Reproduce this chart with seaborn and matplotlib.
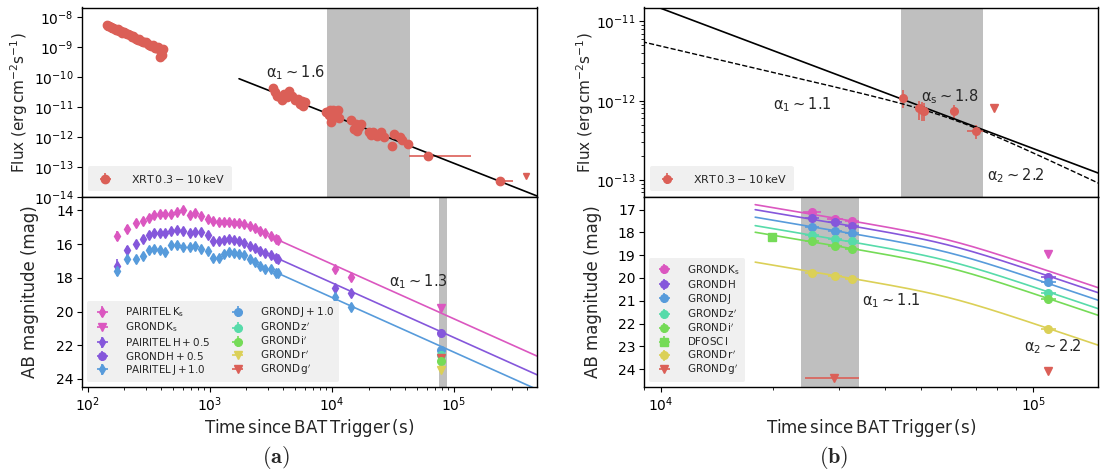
import numpy as np
import matplotlib
matplotlib.use('Agg')
import matplotlib.pyplot as plt
import seaborn as sns
from matplotlib.ticker import MultipleLocator, NullFormatter, LogLocator

sns.set_theme(style='ticks')
plt.rcParams.update({
    'font.family': ['DejaVu Sans'],
    'axes.edgecolor': 'black',
    'axes.linewidth': 1.0,
    'xtick.labelsize': 10,
    'ytick.labelsize': 10,
    'axes.labelsize': 12,
    'xtick.color': 'black',
    'ytick.color': 'black',
    'mathtext.fontset': 'dejavusans',
})
pal = sns.color_palette('hls', 7)
RED, YEL, GRN, TEAL, BLUE, PURP, PINK = pal

# ---------------- data: panel (a) X-ray ----------------
xrt_a_t = [143, 147, 151, 155, 159, 163, 168, 172, 177, 182, 187, 193, 198, 204, 210, 216,
           222, 229, 236, 243, 250, 258, 266, 274, 283, 292, 301, 311, 321, 332, 343, 354,
           366, 378, 390, 403, 412, 405, 395,
           3311, 3428, 3540, 3733, 3908, 4093, 4315, 4487, 4763, 4989, 5260, 5546, 5808, 6010, 5700,
           8930, 9420, 9860, 10200, 10550, 10900, 11260, 11480, 9680,
           14490, 15170, 15680, 16220, 16750, 17340,
           20050, 20850, 21830, 23330, 25430, 26620,
           31400, 32460, 36310, 37830, 42270,
           61000, 240000]
xrt_a_f = [5.3e-9, 5.0e-9, 4.8e-9, 4.6e-9, 4.2e-9, 4.4e-9, 3.9e-9, 3.6e-9, 3.8e-9, 3.4e-9, 3.3e-9,
           3.0e-9, 3.1e-9, 2.8e-9, 2.6e-9, 2.7e-9, 2.4e-9, 2.2e-9, 2.3e-9, 2.0e-9, 1.9e-9, 1.7e-9,
           1.8e-9, 1.6e-9, 1.5e-9, 1.4e-9, 1.45e-9, 1.25e-9, 1.2e-9, 1.1e-9, 1.15e-9, 0.95e-9,
           0.9e-9, 1.0e-9, 0.8e-9, 0.75e-9, 0.85e-9, 0.55e-9, 0.45e-9,
           4.4e-11, 3.2e-11, 2.4e-11, 2.1e-11, 1.7e-11, 2.8e-11, 2.1e-11, 3.3e-11, 2.4e-11, 1.67e-11,
           1.9e-11, 1.3e-11, 1.05e-11, 1.47e-11, 1.55e-11,
           6.8e-12, 5.3e-12, 3.2e-12, 7.8e-12, 4.7e-12, 6.0e-12, 7.8e-12, 4.4e-12, 7.8e-12,
           3.6e-12, 1.9e-12, 2.6e-12, 1.58e-12, 2.1e-12, 2.8e-12,
           1.48e-12, 1.14e-12, 1.48e-12, 1.05e-12, 1.48e-12, 1.0e-12,
           4.9e-13, 1.23e-12, 1.0e-12, 8.1e-13, 6.0e-13,
           2.3e-13, 3.4e-14]
xrt_a_xlo = [0] * 80 + [17400, 10000]
xrt_a_xhi = [0] * 80 + [77000, 60000]
xrt_a_ul_t = [390000]
xrt_a_ul_f = [5.2e-14]

# model (a) X-ray: single power law
xa_t0, xa_f0, xa_alpha = 1740, 8.7e-11, 1.6

# ---------------- data: panel (a) optical/NIR ----------------
pt_t = [173, 210, 247, 282, 320, 353, 390, 431, 483, 544, 602, 686, 758, 850, 968, 1071,
        1183, 1307, 1445, 1585, 1738, 1919, 2121, 2345, 2590, 2864, 3162, 3494, 3657, 10600, 14400]
pt_ks = [15.49, 15.09, 14.73, 14.60, 14.44, 14.28, 14.22, 14.20, 14.18, 14.08, 14.00, 14.24, 14.14,
         14.30, 14.50, 14.63, 14.67, 14.69, 14.67, 14.73, 14.77, 14.83, 14.93, 15.03, 15.23, 15.33,
         15.49, 15.72, 15.76, 17.45, 17.94]
pt_h = [17.30, 16.32, 15.98, 15.72, 15.47, 15.33, 15.33, 15.33, 15.23, 15.17, 15.23, 15.33, 15.28,
        15.28, 15.43, 15.82, 15.82, 15.76, 15.72, 15.76, 15.82, 15.92, 16.08, 16.22, 16.38, 16.51,
        16.67, 16.81, 16.87, 18.63, 18.89]
pt_j = [17.60, 16.87, 16.91, 16.71, 16.32, 16.26, 16.32, 16.46, 16.02, 16.02, 16.16, 16.16, 16.12,
        16.28, 16.42, 16.81, 16.81, 16.61, 16.48, 16.52, 16.56, 16.67, 16.91, 17.07, 17.31, 17.45,
        17.50, 17.70, 17.74, 19.13, 19.76]
pt_err = [0.30, 0.20, 0.15, 0.15, 0.15, 0.15, 0.15, 0.15, 0.15, 0.15, 0.15, 0.15, 0.15, 0.15, 0.15,
          0.15, 0.15, 0.15, 0.15, 0.15, 0.15, 0.15, 0.15, 0.15, 0.15, 0.15, 0.15, 0.15, 0.15, 0.18, 0.18]
pt_herr = [0.40, 0.20, 0.15, 0.15, 0.15, 0.15, 0.15, 0.15, 0.15, 0.15, 0.15, 0.15, 0.15, 0.15, 0.15,
           0.15, 0.15, 0.15, 0.15, 0.15, 0.15, 0.15, 0.15, 0.15, 0.15, 0.15, 0.15, 0.15, 0.15, 0.18, 0.18]
ga_t = 78200
ga_ks_ul, ga_h, ga_j, ga_z, ga_i, ga_r_ul, ga_g_ul = 19.78, 21.30, 22.26, 22.60, 22.92, 23.45, 22.78

# model (a) optical: single power law anchored at t0
oa_t0, oa_alpha = 3657, 1.3
oa_m0 = {'ks': 15.76, 'h': 16.87, 'j': 17.74}

# ---------------- data: panel (b) X-ray ----------------
xrt_b_t = [44700, 49300, 50100, 50800, 61000, 70200]
xrt_b_f = [1.08e-12, 8.0e-13, 7.7e-13, 7.4e-13, 7.4e-13, 4.2e-13]
xrt_b_flo = [2.7e-13, 2.3e-13, 2.2e-13, 1.9e-13, 1.4e-13, 0.9e-13]
xrt_b_fhi = [2.9e-13, 1.8e-13, 1.8e-13, 1.9e-13, 1.5e-13, 0.8e-13]
xrt_b_terr = [900, 900, 900, 900, 1200, 3800]
xrt_b_ul_t = [78300]
xrt_b_ul_f = [8.0e-13]

# models (b) X-ray
xb_t0, xb_f0, xb_alpha_s = 9820, 1.51e-11, 1.77          # single PL (solid)
xb_tb, xb_fb, xb_a1, xb_a2, xb_s = 6.0e4, 6.8e-13, 1.1, 2.2, 5.0   # broken PL (dashed)

# ---------------- data: panel (b) optical/NIR ----------------
gb_t = [25470, 29310, 32580, 109700]
gb_ks = [17.09, 17.43, 17.50]
gb_ks_ul = 18.97
gb_h = [17.37, 17.56, 17.74, 19.97]
gb_j = [17.76, 17.94, 18.03, 20.19]
gb_z = [18.10, 18.28, 18.40, 20.66]
gb_i = [18.40, 18.60, 18.75, 20.93]
gb_r = [19.78, 19.93, 20.04, 22.22]
gb_g_ul_t = [29100, 109700]
gb_g_ul = [24.38, 24.06]
gb_g_ul_xlo = [4700, 0]
gb_g_ul_xhi = [4800, 0]
dfosc_t, dfosc_i = [19800], [18.20]

# model (b) optical: smoothly broken PL
ob_tb, ob_a1, ob_a2, ob_s, ob_tstart = 5.9e4, 1.1, 2.2, 6.0, 17900
ob_mb = {'ks': 18.21, 'h': 18.43, 'j': 18.76, 'z': 19.13, 'i': 19.42, 'r': 20.73}

# bands (shaded)
band_a_top = (9.1e3, 4.4e4)
band_a_bot = (7.5e4, 8.8e4)
band_b_top = (4.4e4, 7.3e4)
band_b_bot = (2.38e4, 3.41e4)

# ---------------- figure ----------------
fig = plt.figure(figsize=(11.02, 4.72), dpi=100)
L0, L1 = 82 / 1102, 537 / 1102
R0, R1 = 644 / 1102, 1098 / 1102
TOP, MID, BOT = 1 - 7.5 / 472, 1 - 197 / 472, 1 - 387 / 472
axA1 = fig.add_axes([L0, MID, L1 - L0, TOP - MID])
axA2 = fig.add_axes([L0, BOT, L1 - L0, MID - BOT], sharex=axA1)
axB1 = fig.add_axes([R0, MID, R1 - R0, TOP - MID])
axB2 = fig.add_axes([R0, BOT, R1 - R0, MID - BOT], sharex=axB1)

for ax in (axA1, axA2, axB1, axB2):
    ax.set_xscale('log')
    for sp in ax.spines.values():
        sp.set_visible(True)
        sp.set_color('black')
    ax.tick_params(which='major', length=3.5, width=0.8, direction='out', pad=2.5)
    ax.tick_params(which='minor', length=2, width=0.6, direction='out')
axA1.set_yscale('log')
axB1.set_yscale('log')

LEG_TOP = dict(fontsize=8, frameon=True, facecolor='#f0f0f0', edgecolor='none', framealpha=1,
               handletextpad=1.3, borderpad=0.6)
LEG = dict(fontsize=7.5, frameon=True, facecolor='#f0f0f0', edgecolor='none', framealpha=1,
           handletextpad=1.2, borderpad=0.45, labelspacing=0.15)
EB = dict(capsize=0, elinewidth=1.2)
TXT = dict(ha='left', va='center', fontsize=10.5)

# ---- (a) top ----
ax = axA1
ax.axvspan(*band_a_top, color='#bfbfbf', lw=0, zorder=0)
t_a = np.array(xrt_a_t, float)
f_a = np.array(xrt_a_f)
ax.errorbar(t_a, f_a, xerr=[np.array(xrt_a_xlo) + 0.01 * t_a, np.array(xrt_a_xhi) + 0.01 * t_a],
            yerr=0.15 * f_a, fmt='o', ms=6, color=RED, label=r'$\rm XRT\,0.3-10\,keV$', **EB)
ax.errorbar(xrt_a_ul_t, xrt_a_ul_f, fmt='v', ms=5, color=RED)
tt = np.geomspace(xa_t0, 4.8e5, 100)
sns.lineplot(x=tt, y=xa_f0 * (tt / xa_t0) ** (-xa_alpha), ax=ax, color='black', lw=1.2,
             legend=False, estimator=None, sort=False)
ax.set_ylim(1e-14, 2.05e-8)
ax.yaxis.set_major_locator(LogLocator(base=10, numticks=20))
ax.yaxis.set_minor_locator(LogLocator(base=10, subs=np.arange(2, 10) * 0.1, numticks=20))
ax.yaxis.set_minor_formatter(NullFormatter())
ax.tick_params(axis='y', which='minor', length=0)
ax.set_ylabel(r'Flux (erg$\,$cm$^{-2}$s$^{-1}$)', fontsize=11)
ax.yaxis.set_label_coords(-0.114, 0.5)
ax.text(2900, 1.35e-10, r'$\mathrm{\alpha_1 \sim 1.6}$', **TXT)
ax.legend(loc='lower left', **LEG_TOP)
plt.setp(ax.get_xticklabels(), visible=False)

# ---- (a) bottom ----
ax = axA2
ax.axvspan(*band_a_bot, color='#bfbfbf', lw=0, zorder=0)
pt_tt = np.array(pt_t, float)
h1 = ax.errorbar(pt_tt, pt_ks, xerr=0.025 * pt_tt, yerr=pt_err, fmt='d', ms=5.5, color=PINK,
                 label=r'$\rm PAIRITEL\,K_s$', **EB)
h2 = ax.errorbar([ga_t], [ga_ks_ul], xerr=[3000], fmt='v', ms=5.5, color=PINK,
                 label=r'$\rm GROND\,K_s$', **EB)
h3 = ax.errorbar(pt_tt, pt_h, xerr=0.025 * pt_tt, yerr=pt_herr, fmt='d', ms=5.5, color=PURP,
                 label=r'$\rm PAIRITEL\,H + 0.5$', **EB)
h4 = ax.errorbar([ga_t], [ga_h], xerr=[3000], yerr=[0.1], fmt='o', ms=5.5, color=PURP,
                 label=r'$\rm GROND\,H + 0.5$', **EB)
h5 = ax.errorbar(pt_tt, pt_j, xerr=0.025 * pt_tt, yerr=pt_err, fmt='d', ms=5.5, color=BLUE,
                 label=r'$\rm PAIRITEL\,J + 1.0$', **EB)
h6 = ax.errorbar([ga_t], [ga_j], xerr=[3000], yerr=[0.1], fmt='o', ms=5.5, color=BLUE,
                 label=r'$\rm GROND\,J + 1.0$', **EB)
h7 = ax.errorbar([ga_t], [ga_z], xerr=[3000], yerr=[0.1], fmt='o', ms=5.5, color=TEAL,
                 label=r"$\rm GROND\,z'$", **EB)
h10 = ax.errorbar([ga_t], [ga_g_ul], xerr=[3000], fmt='v', ms=5.5, color=RED,
                  label=r"$\rm GROND\,g'$", **EB)
h8 = ax.errorbar([ga_t], [ga_i], xerr=[3000], yerr=[0.1], fmt='o', ms=5.5, color=GRN,
                 label=r"$\rm GROND\,i'$", **EB)
h9 = ax.errorbar([ga_t], [ga_r_ul], xerr=[3000], fmt='v', ms=5.5, color=YEL,
                 label=r"$\rm GROND\,r'$", **EB)
tt = np.geomspace(oa_t0, 4.8e5, 100)
for key, col in (('ks', PINK), ('h', PURP), ('j', BLUE)):
    sns.lineplot(x=tt, y=oa_m0[key] + 2.5 * oa_alpha * np.log10(tt / oa_t0), ax=ax, color=col,
                 lw=1.2, legend=False, estimator=None, sort=False)
ax.set_xlim(90, 4.8e5)
ax.set_ylim(24.48, 13.2)
ax.yaxis.set_major_locator(MultipleLocator(2))
ax.set_ylabel('AB magnitude (mag)')
ax.yaxis.set_label_coords(-0.094, 0.5)
ax.set_xlabel(r'$\rm Time\,since\,BAT\,Trigger\,(s)$', labelpad=2)
ax.text(29200, 18.2, r'$\mathrm{\alpha_1 \sim 1.3}$', **TXT)
ax.legend(handles=[h1, h2, h3, h4, h5, h6, h7, h8, h9, h10], loc='lower left', ncol=2,
          columnspacing=1.6, **LEG)

# ---- (b) top ----
ax = axB1
ax.axvspan(*band_b_top, color='#bfbfbf', lw=0, zorder=0)
ax.errorbar(xrt_b_t, xrt_b_f, xerr=xrt_b_terr, yerr=[xrt_b_flo, xrt_b_fhi], fmt='o', ms=5.5,
            color=RED, label=r'$\rm XRT\,0.3-10\,keV$', **EB)
ax.errorbar(xrt_b_ul_t, xrt_b_ul_f, fmt='v', ms=5.5, color=RED)
tt = np.geomspace(8500, 1.6e5, 200)
sns.lineplot(x=tt, y=xb_f0 * (tt / xb_t0) ** (-xb_alpha_s), ax=ax, color='black', lw=1.2,
             legend=False, estimator=None, sort=False)
xx = tt / xb_tb
fb = xb_fb * (xx ** (xb_a1 * xb_s) + xx ** (xb_a2 * xb_s)) ** (-1 / xb_s)
sns.lineplot(x=tt, y=fb, ax=ax, color='black', lw=1.0, ls='--', legend=False,
             estimator=None, sort=False)
ax.set_ylim(6.1e-14, 1.5e-11)
ax.yaxis.set_minor_formatter(NullFormatter())
ax.set_ylabel(r'Flux (erg$\,$cm$^{-2}$s$^{-1}$)', fontsize=11)
ax.yaxis.set_label_coords(-0.106, 0.5)
ax.text(20000, 8.9e-13, r'$\mathrm{\alpha_1 \sim 1.1}$', **TXT)
ax.text(50000, 1.13e-12, r'$\mathrm{\alpha_s \sim 1.8}$', **TXT)
ax.text(75000, 1.13e-13, r'$\mathrm{\alpha_2 \sim 2.2}$', **TXT)
ax.legend(loc='lower left', **LEG_TOP)
plt.setp(ax.get_xticklabels(), visible=False)

# ---- (b) bottom ----
ax = axB2
ax.axvspan(*band_b_bot, color='#bfbfbf', lw=0, zorder=0)
tt = np.geomspace(ob_tstart, 1.6e5, 200)
xx = tt / ob_tb
for key, col in (('ks', PINK), ('h', PURP), ('j', BLUE), ('z', TEAL), ('i', GRN), ('r', YEL)):
    mm = ob_mb[key] + (2.5 / ob_s) * np.log10(xx ** (ob_a1 * ob_s) + xx ** (ob_a2 * ob_s))
    sns.lineplot(x=tt, y=mm, ax=ax, color=col, lw=1.2, legend=False, estimator=None, sort=False)
gt = np.array(gb_t, float)
k1 = ax.errorbar(gt[:3], gb_ks, xerr=[1400, 1400, 1400], yerr=0.06, fmt='o', ms=5.5, color=PINK,
                 label=r'$\rm GROND\,K_s$', **EB)
ax.errorbar([gt[3]], [gb_ks_ul], xerr=[1200], fmt='v', ms=5.5, color=PINK, **EB)
k2 = ax.errorbar(gt, gb_h, xerr=0.045 * gt, yerr=0.06, fmt='o', ms=5.5, color=PURP,
                 label=r'$\rm GROND\,H$', **EB)
k3 = ax.errorbar(gt, gb_j, xerr=0.045 * gt, yerr=0.06, fmt='o', ms=5.5, color=BLUE,
                 label=r'$\rm GROND\,J$', **EB)
k4 = ax.errorbar(gt, gb_z, xerr=0.045 * gt, yerr=0.06, fmt='o', ms=5.5, color=TEAL,
                 label=r"$\rm GROND\,z'$", **EB)
k5 = ax.errorbar(gt, gb_i, xerr=0.045 * gt, yerr=0.06, fmt='o', ms=5.5, color=GRN,
                 label=r"$\rm GROND\,i'$", **EB)
k6 = ax.errorbar(dfosc_t, dfosc_i, xerr=[300], yerr=[0.1], fmt='s', ms=5.5, color=GRN,
                 label=r'$\rm DFOSC\,I$', **EB)
k7 = ax.errorbar(gt, gb_r, xerr=0.045 * gt, yerr=0.06, fmt='o', ms=5.5, color=YEL,
                 label=r"$\rm GROND\,r'$", **EB)
k8 = ax.errorbar(gb_g_ul_t, gb_g_ul, xerr=[gb_g_ul_xlo, gb_g_ul_xhi], fmt='v', ms=5.5, color=RED,
                 label=r"$\rm GROND\,g'$", **EB)
ax.set_xlim(9000, 1.49e5)
ax.set_ylim(24.78, 16.45)
ax.yaxis.set_major_locator(MultipleLocator(1))
ax.xaxis.set_minor_formatter(NullFormatter())
ax.set_ylabel('AB magnitude (mag)')
ax.yaxis.set_label_coords(-0.093, 0.5)
ax.set_xlabel(r'$\rm Time\,since\,BAT\,Trigger\,(s)$', labelpad=2)
ax.text(34700, 21.0, r'$\mathrm{\alpha_1 \sim 1.1}$', **TXT)
ax.text(94200, 22.99, r'$\mathrm{\alpha_2 \sim 2.2}$', **TXT)
ax.legend(handles=[k1, k2, k3, k4, k5, k6, k7, k8], loc='lower left', **LEG)

fig.text(0.25, 0.03, r'$\mathbf{(a)}$', ha='center', va='center', fontsize=16, math_fontfamily='cm')
fig.text(0.757, 0.03, r'$\mathbf{(b)}$', ha='center', va='center', fontsize=16, math_fontfamily='cm')

fig.savefig('out.png', dpi=100)
